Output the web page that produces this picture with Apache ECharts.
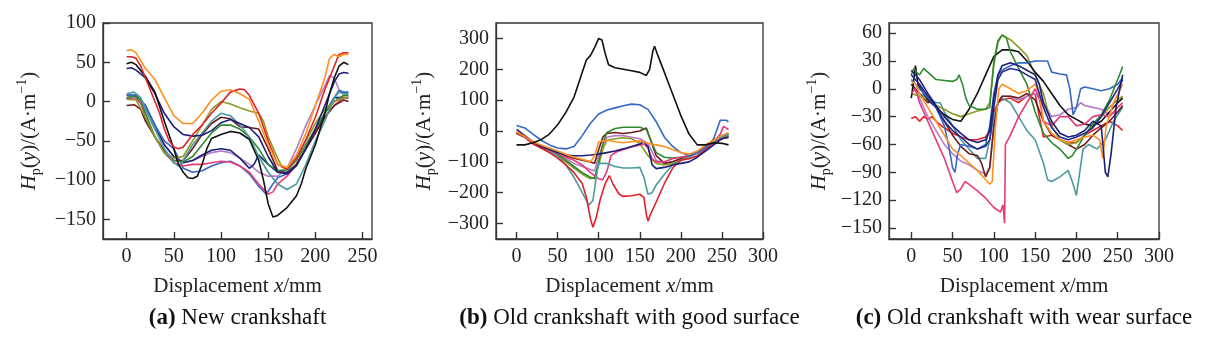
<!DOCTYPE html>
<html>
<head>
<meta charset="utf-8">
<script src="https://cdn.jsdelivr.net/npm/echarts@6/dist/echarts.min.js"></script>
<style>
  html, body { margin: 0; padding: 0; background: #fff; }
  #chart { width: 1209px; height: 342px; }
</style>
</head>
<body>
<div id="chart"></div>
<script>
// ---- (a) new crankshaft ----
var aOrange = [[0,65],[5,66],[10,62],[15,52],[20,42],[25,35],[30,28],[40,5],[50,-18],[60,-28],[70,-28],[80,-15],[90,2],[100,13],[110,15],[120,10],[130,3],[140,-25],[150,-55],[160,-80],[170,-84],[180,-68],[190,-40],[200,-5],[210,30],[215,55],[220,60],[225,57],[230,60],[235,60]];
var aRed = [[0,57],[5,57],[10,55],[15,45],[20,30],[25,15],[30,0],[35,-15],[40,-35],[45,-50],[50,-58],[55,-60],[60,-58],[65,-50],[70,-42],[80,-30],[90,-15],[100,-2],[110,12],[120,16],[125,15],[130,8],[140,-15],[150,-50],[160,-80],[170,-86],[180,-72],[190,-48],[200,-20],[210,15],[220,45],[225,60],[230,62],[235,62]];
var aBlack = [[0,48],[5,50],[10,47],[20,32],[30,12],[40,-25],[50,-60],[55,-80],[60,-90],[65,-97],[70,-98],[75,-95],[80,-80],[85,-60],[90,-47],[100,-42],[110,-38],[120,-40],[130,-48],[140,-75],[145,-100],[150,-130],[155,-147],[160,-145],[170,-135],[180,-120],[185,-105],[190,-85],[200,-55],[210,-15],[215,10],[220,30],[225,45],[230,50],[235,47]];
var aNavy = [[0,42],[5,43],[10,40],[20,30],[30,10],[40,-15],[50,-32],[60,-42],[70,-44],[80,-43],[90,-37],[100,-27],[110,-23],[120,-28],[130,-33],[140,-45],[150,-70],[160,-90],[170,-92],[180,-82],[190,-60],[200,-35],[210,-5],[220,25],[225,35],[230,37],[235,36]];
var aTeal = [[0,10],[8,12],[15,5],[20,-10],[30,-35],[40,-60],[50,-78],[55,-82],[60,-75],[70,-55],[80,-40],[90,-25],[100,-15],[110,-18],[120,-30],[130,-45],[140,-70],[150,-90],[160,-105],[170,-112],[180,-105],[190,-80],[200,-50],[210,-25],[220,5],[225,12],[230,10],[235,10]];
var aGreen = [[0,5],[8,7],[15,2],[20,-15],[30,-45],[40,-65],[50,-75],[60,-77],[70,-70],[80,-55],[90,-40],[100,-30],[110,-30],[120,-35],[130,-45],[140,-60],[150,-80],[160,-88],[170,-87],[180,-75],[190,-55],[200,-35],[210,-15],[220,0],[230,8],[235,8]];
var aOlive = [[0,3],[10,2],[20,-20],[30,-45],[40,-65],[50,-72],[60,-70],[70,-50],[80,-30],[90,-10],[100,0],[110,-3],[120,-8],[130,-12],[140,-15],[145,-25],[150,-45],[160,-72],[165,-84],[170,-85],[180,-72],[190,-50],[200,-28],[210,-10],[220,0],[230,5],[235,5]];
var aMaroon = [[0,-5],[8,-4],[15,-10],[20,-25],[30,-45],[40,-62],[50,-75],[60,-75],[70,-60],[80,-42],[90,-28],[100,-20],[110,-22],[120,-32],[130,-33],[140,-35],[150,-60],[160,-88],[170,-92],[180,-80],[190,-60],[200,-40],[210,-20],[220,-5],[230,2],[235,0]];
var aPink = [[0,4],[10,3],[15,-2],[20,-20],[30,-45],[40,-65],[50,-78],[60,-82],[70,-80],[80,-80],[90,-78],[100,-76],[110,-77],[120,-82],[130,-90],[140,-105],[150,-118],[155,-115],[160,-105],[170,-95],[180,-80],[190,-60],[200,-40],[210,-20],[220,-5],[230,5],[235,5]];
var aBlue = [[0,8],[10,8],[20,-5],[30,-30],[40,-50],[50,-60],[55,-72],[60,-85],[70,-90],[80,-88],[90,-82],[100,-78],[110,-76],[120,-82],[130,-92],[140,-108],[148,-118],[155,-105],[160,-97],[170,-92],[180,-80],[190,-60],[200,-35],[210,-15],[220,5],[225,14],[230,12],[235,12]];
var aNavy2 = [[0,8],[10,8],[20,-5],[30,-30],[40,-55],[50,-70],[60,-78],[70,-75],[80,-68],[90,-62],[100,-60],[110,-62],[120,-72],[130,-85],[135,-80],[140,-68],[150,-80],[160,-90],[170,-90],[180,-80],[190,-60],[200,-40],[210,-15],[220,5],[230,5],[235,5]];
var aPurple = [[0,5],[10,5],[20,-10],[30,-35],[40,-55],[50,-70],[60,-78],[70,-75],[80,-70],[90,-65],[100,-63],[110,-65],[120,-72],[130,-80],[140,-90],[150,-95],[160,-95],[170,-85],[180,-60],[190,-30],[200,-5],[210,20],[215,33],[220,30],[225,15],[230,10],[235,10]];

// ---- (b) old crankshaft, good surface ----
var bBlack = [[0,-45],[10,-45],[20,-38],[30,-28],[40,-10],[50,20],[60,60],[70,110],[80,190],[85,230],[90,245],[95,270],[100,300],[104,295],[108,250],[112,215],[120,205],[130,200],[140,195],[150,190],[158,180],[162,200],[166,260],[168,275],[172,245],[180,190],[190,120],[200,50],[210,-10],[220,-45],[230,-45],[240,-38],[250,-40],[258,-45]];
var bBlue = [[0,18],[10,10],[20,-10],[30,-30],[40,-45],[50,-55],[60,-58],[70,-50],[80,-15],[90,25],[100,55],[110,68],[120,75],[130,82],[140,87],[150,85],[160,70],[170,30],[180,-20],[190,-50],[200,-70],[210,-80],[220,-72],[230,-55],[240,-25],[248,35],[255,35],[258,30]];
var bRed = [[0,-5],[10,-20],[20,-42],[30,-55],[40,-70],[50,-88],[60,-110],[70,-135],[80,-170],[85,-215],[90,-285],[93,-312],[97,-280],[102,-220],[108,-170],[113,-145],[118,-175],[125,-205],[130,-212],[140,-210],[150,-205],[155,-215],[158,-270],[160,-292],[163,-270],[170,-230],[180,-170],[190,-120],[200,-95],[210,-90],[220,-80],[230,-60],[240,-40],[250,-25],[258,-20]];
var bTeal = [[0,-5],[10,-20],[20,-40],[30,-55],[40,-68],[50,-80],[60,-110],[70,-150],[80,-200],[88,-240],[93,-225],[97,-150],[100,-105],[110,-105],[120,-115],[130,-120],[140,-120],[150,-118],[155,-150],[160,-205],[165,-200],[170,-175],[180,-140],[190,-110],[200,-95],[210,-85],[220,-70],[230,-55],[240,-35],[250,-20],[258,-10]];
var bGreen = [[0,-8],[10,-20],[20,-38],[30,-50],[40,-62],[50,-75],[60,-95],[70,-115],[80,-135],[90,-150],[95,-155],[100,-100],[105,-40],[110,-5],[120,8],[130,12],[140,12],[150,12],[158,5],[165,-40],[170,-70],[180,-85],[190,-88],[200,-85],[210,-80],[220,-70],[230,-50],[240,-35],[250,-20],[258,-15]];
var bOlive = [[0,-5],[10,-20],[20,-40],[30,-55],[40,-68],[50,-80],[60,-100],[70,-120],[80,-140],[90,-155],[95,-150],[100,-110],[105,-60],[110,-30],[120,-25],[130,-22],[140,-25],[150,-40],[160,-80],[170,-105],[180,-110],[190,-105],[200,-95],[210,-85],[220,-70],[230,-50],[240,-30],[250,-15],[258,-10]];
var bMaroon = [[0,-5],[10,-18],[20,-35],[30,-50],[40,-60],[50,-70],[60,-80],[70,-88],[80,-95],[90,-100],[95,-105],[100,-60],[105,-20],[110,-8],[120,-5],[130,-8],[140,-5],[150,0],[158,10],[162,-20],[170,-80],[180,-105],[190,-100],[200,-90],[210,-80],[220,-70],[230,-50],[240,-30],[250,-15],[258,-10]];
var bPurple = [[0,-5],[10,-18],[20,-36],[30,-50],[40,-62],[50,-75],[60,-90],[70,-105],[80,-115],[90,-125],[95,-130],[100,-80],[110,-20],[120,-15],[130,-15],[140,-20],[150,-25],[160,-40],[170,-95],[180,-105],[190,-100],[200,-90],[210,-80],[220,-70],[230,-50],[240,-35],[250,-20],[258,-15]];
var bPink = [[0,-8],[10,-20],[20,-40],[30,-52],[40,-62],[50,-72],[60,-85],[70,-95],[80,-110],[90,-135],[100,-155],[105,-158],[110,-130],[115,-80],[120,-70],[130,-60],[140,-52],[150,-45],[155,-42],[160,-55],[165,-90],[170,-100],[180,-100],[190,-90],[200,-85],[210,-80],[220,-70],[230,-50],[240,-35],[248,-10],[252,15],[258,5]];
var bNavy = [[0,5],[10,-15],[20,-35],[30,-50],[40,-60],[50,-70],[60,-78],[70,-80],[80,-80],[90,-78],[100,-75],[110,-70],[120,-65],[130,-58],[140,-50],[150,-42],[155,-35],[160,-50],[165,-110],[170,-122],[180,-118],[190,-110],[200,-105],[210,-100],[220,-85],[230,-65],[240,-45],[250,-25],[258,-20]];
var bOrange = [[0,-3],[10,-18],[20,-35],[30,-45],[40,-55],[50,-65],[60,-75],[70,-85],[80,-92],[90,-100],[95,-80],[100,-35],[110,-30],[120,-35],[130,-38],[140,-35],[150,-32],[160,-40],[170,-45],[180,-50],[190,-60],[200,-70],[210,-75],[220,-65],[230,-45],[240,-30],[250,-15],[258,-5]];

// ---- (c) old crankshaft, wear surface ----
var cGreen = [[0,15],[3,22],[6,18],[10,15],[15,22],[20,18],[30,10],[40,9],[50,8],[55,10],[58,15],[62,5],[66,-10],[70,-18],[80,-22],[90,-22],[95,-20],[100,30],[105,52],[110,58],[115,55],[120,40],[130,22],[140,5],[150,-25],[160,-48],[170,-58],[180,-65],[190,-75],[195,-72],[200,-65],[210,-50],[220,-38],[230,-28],[240,-12],[250,10],[256,24]];
var cOlive = [[0,-5],[10,-8],[20,-12],[30,-18],[40,-22],[50,-27],[60,-30],[70,-27],[80,-24],[90,-22],[95,-15],[100,25],[105,50],[110,58],[120,53],[130,45],[140,36],[150,15],[160,-5],[170,-40],[180,-55],[190,-60],[200,-58],[210,-50],[220,-40],[230,-30],[240,-20],[250,-12],[256,-8]];
var cBlack = [[0,-10],[3,10],[5,25],[8,5],[15,-5],[20,-12],[30,-20],[40,-28],[50,-33],[60,-35],[70,-22],[80,-5],[90,15],[100,35],[110,42],[120,42],[130,40],[140,30],[150,18],[160,8],[170,-5],[180,-18],[190,-28],[200,-33],[210,-38],[220,-40],[230,-35],[240,-25],[250,-15],[256,-10]];
var cNavy = [[0,20],[10,10],[20,-5],[30,-18],[40,-30],[50,-40],[60,-48],[70,-55],[80,-58],[90,-55],[95,-45],[100,-10],[105,15],[110,25],[120,28],[130,25],[140,20],[150,15],[155,5],[160,-15],[170,-35],[180,-48],[190,-52],[200,-50],[210,-45],[220,-35],[230,-40],[235,-90],[238,-95],[242,-70],[248,-20],[256,15]];
var cNavy2 = [[0,15],[10,5],[20,-8],[30,-20],[40,-35],[50,-45],[60,-52],[70,-60],[80,-65],[90,-62],[95,-55],[100,-20],[105,10],[110,18],[120,22],[130,20],[140,15],[150,10],[160,-20],[170,-42],[180,-52],[190,-55],[200,-52],[210,-48],[220,-42],[230,-30],[240,-15],[250,0],[256,10]];
var cBlue = [[0,10],[10,0],[20,-10],[30,-20],[40,-40],[45,-60],[50,-85],[53,-90],[56,-70],[60,-60],[70,-62],[80,-65],[90,-60],[95,-40],[100,-5],[105,15],[110,20],[120,25],[130,28],[140,28],[150,30],[160,30],[165,30],[170,18],[180,16],[188,15],[192,0],[196,-28],[200,-20],[205,0],[210,2],[220,0],[230,-2],[240,0],[250,5],[256,12]];
var cTeal = [[0,5],[10,-5],[20,-10],[30,-15],[35,-15],[40,-25],[50,-40],[60,-55],[70,-65],[80,-75],[90,-75],[95,-55],[100,-30],[105,-15],[110,-10],[120,-15],[130,-30],[140,-45],[150,-55],[160,-80],[165,-98],[170,-100],[180,-95],[190,-88],[195,-100],[200,-115],[204,-90],[208,-65],[215,-60],[225,-65],[235,-55],[245,-35],[256,-20]];
var cPink = [[0,-5],[5,0],[10,-15],[20,-35],[30,-55],[40,-75],[50,-100],[55,-112],[60,-108],[65,-100],[70,-103],[80,-110],[90,-118],[100,-128],[108,-133],[111,-125],[113,-145],[114,-60],[120,-50],[130,-30],[140,-15],[150,0],[155,-10],[160,-35],[170,-40],[180,-30],[190,-30],[200,-40],[210,-38],[220,-30],[230,-28],[240,-30],[250,-20],[256,-15]];
var cOrange = [[0,8],[5,5],[10,-5],[20,-20],[30,-35],[40,-50],[50,-65],[60,-72],[70,-80],[80,-88],[90,-98],[95,-103],[98,-100],[102,-40],[106,0],[110,5],[120,0],[130,-5],[140,-2],[150,5],[155,-5],[160,-35],[170,-48],[180,-55],[190,-58],[200,-55],[210,-52],[220,-50],[228,-55],[232,-75],[236,-40],[245,-15],[256,5]];
var cRed = [[0,-32],[5,-30],[10,-35],[15,-30],[20,-33],[25,-30],[30,-35],[40,-42],[50,-48],[60,-52],[70,-55],[80,-55],[90,-52],[95,-45],[100,-25],[105,-15],[110,-12],[120,-10],[130,-15],[140,-8],[150,-5],[155,-30],[160,-52],[170,-50],[180,-55],[190,-58],[200,-58],[210,-50],[220,-45],[230,-40],[240,-35],[250,-40],[256,-45]];
var cPurple = [[0,5],[10,-10],[20,-30],[30,-45],[40,-60],[50,-70],[60,-78],[70,-82],[80,-88],[90,-92],[95,-85],[100,-40],[105,-15],[110,-8],[120,-8],[130,-12],[140,-8],[150,-5],[160,-15],[170,-30],[180,-28],[190,-22],[200,-20],[205,-15],[210,-18],[220,-20],[230,-22],[240,-28],[250,-25],[256,-20]];
var cMaroon = [[0,5],[10,-5],[20,-15],[25,-12],[30,-20],[40,-35],[50,-50],[60,-62],[70,-70],[80,-72],[85,-80],[90,-95],[95,-85],[100,-40],[105,-15],[110,-8],[120,-8],[130,-10],[140,-5],[150,-12],[160,-35],[170,-50],[180,-55],[190,-60],[200,-65],[210,-60],[220,-50],[230,-42],[240,-35],[250,-25],[256,-18]];

// tick values and captions
var xTicksA = [0, 50, 100, 150, 200, 250];
var xTicksBC = [0, 50, 100, 150, 200, 250, 300];
var yTicksA = [-150, -100, -50, 0, 50, 100];
var yTicksB = [-300, -200, -100, 0, 100, 200, 300];
var yTicksC = [-150, -120, -90, -60, -30, 0, 30, 60];
var captions = [['(a)', ' New crankshaft'], ['(b)', ' Old crankshaft with good surface'], ['(c)', ' Old crankshaft with wear surface']];

var C = {
    black: '#111111', red: '#e3202a', orange: '#ff9020', navy: '#1c1f78', navy2: '#262a8c',
    blue: '#3568c4', teal: '#4b9aa0', green: '#2f8a2f', olive: '#8c9a22', maroon: '#6e1c1c',
    pink: '#ea3a78', purple: '#b57ccc'
};
var FONT = '"Liberation Serif", "Times New Roman", serif';
var INK = '#222';

var panels = [
    {left: 103, width: 269, xMin: -25, xMax: 260, yMin: -175, yMax: 100, xTicks: xTicksA, yTicks: yTicksA, nameGap: 60,
        lines: [[aPurple, C.purple], [aNavy2, C.navy], [aBlue, C.blue], [aPink, C.pink], [aMaroon, C.maroon], [aGreen, C.green],
            [aOlive, C.olive], [aTeal, C.teal], [aNavy, C.navy], [aBlack, C.black], [aRed, C.red], [aOrange, C.orange]]},
    {left: 496, width: 267, xMin: -25, xMax: 300, yMin: -350, yMax: 350, xTicks: xTicksBC, yTicks: yTicksB, nameGap: 58,
        lines: [[bPurple, C.purple], [bMaroon, C.maroon], [bOlive, C.olive], [bGreen, C.green], [bPink, C.pink], [bTeal, C.teal],
            [bRed, C.red], [bBlue, C.blue], [bNavy, C.navy], [bOrange, C.orange], [bBlack, C.black]]},
    {left: 889, width: 270, xMin: -27, xMax: 300, yMin: -162, yMax: 71, xTicks: xTicksBC, yTicks: yTicksC, nameGap: 56,
        lines: [[cRed, C.red], [cPurple, C.purple], [cTeal, C.teal], [cMaroon, C.maroon], [cOlive, C.olive], [cBlack, C.black],
            [cBlue, C.blue], [cGreen, C.green], [cPink, C.pink], [cOrange, C.orange], [cNavy2, C.navy2], [cNavy, C.navy]]}
];

var nameRich = {
    n: {fontFamily: FONT, fontSize: 21, color: INK, lineHeight: 28, verticalAlign: 'middle'},
    i: {fontFamily: FONT, fontSize: 21, color: INK, fontStyle: 'italic', lineHeight: 28, verticalAlign: 'middle'},
    s: {fontFamily: FONT, fontSize: 14, color: INK, lineHeight: 14, verticalAlign: 'bottom'},
    u: {fontFamily: FONT, fontSize: 14, color: INK, lineHeight: 14, verticalAlign: 'top'}
};

var grids = [], xAxes = [], yAxes = [], series = [], graphics = [];
panels.forEach(function (p, k) {
    grids.push({left: p.left, top: 23, width: p.width, height: 216, show: true,
        borderColor: '#333', borderWidth: 1.3, backgroundColor: 'transparent'});
    xAxes.push({
        type: 'value', gridIndex: k, min: p.xMin, max: p.xMax,
        name: '{n|Displacement }{i|x}{n|/mm}', nameLocation: 'middle', nameGap: 33,
        nameTextStyle: {rich: nameRich},
        axisLine: {onZero: false, lineStyle: {color: '#333', width: 1.3}},
        axisTick: {inside: true, length: 7, customValues: p.xTicks, lineStyle: {color: '#333', width: 1.4}},
        axisLabel: {customValues: p.xTicks, margin: 8, color: INK, fontFamily: FONT, fontSize: 20},
        splitLine: {show: false}
    });
    yAxes.push({
        type: 'value', gridIndex: k, min: p.yMin, max: p.yMax,
        name: '{i|H}{s|p}{n|(}{i|y}{n|)/(A·m}{u|−1}{n|)}', nameLocation: 'middle', nameRotate: 90, nameGap: p.nameGap,
        nameTextStyle: {rich: nameRich},
        axisLine: {onZero: false, lineStyle: {color: '#333', width: 1.3}},
        axisTick: {inside: true, length: 7, customValues: p.yTicks, lineStyle: {color: '#333', width: 1.4}},
        axisLabel: {customValues: p.yTicks, margin: 7, color: INK, fontFamily: FONT, fontSize: 20,
            formatter: function (v) { return v < 0 ? '\u2212' + (-v) : String(v); }},
        splitLine: {show: false}
    });
    p.lines.forEach(function (ln) {
        series.push({
            type: 'line', xAxisIndex: k, yAxisIndex: k, data: ln[0], symbol: 'none', silent: true,
            lineStyle: {color: ln[1], width: 1.6}, itemStyle: {color: ln[1]}
        });
    });
    graphics.push({
        type: 'text', x: p.left + p.width / 2, y: 318,
        style: {
            text: '{b|' + captions[k][0] + '}{n|' + captions[k][1] + '}',
            align: 'center', verticalAlign: 'middle',
            rich: {
                b: {fontFamily: FONT, fontSize: 23, fontWeight: 'bold', fill: '#111'},
                n: {fontFamily: FONT, fontSize: 23, fill: '#111'}
            }
        }
    });
});

var myChart = echarts.init(document.getElementById('chart'), null, {renderer: 'canvas'});
var option = {
    backgroundColor: '#fff',
    animation: false,
    grid: grids,
    xAxis: xAxes,
    yAxis: yAxes,
    series: series,
    graphic: graphics
};
myChart.setOption(option, true);
</script>
</body>
</html>
